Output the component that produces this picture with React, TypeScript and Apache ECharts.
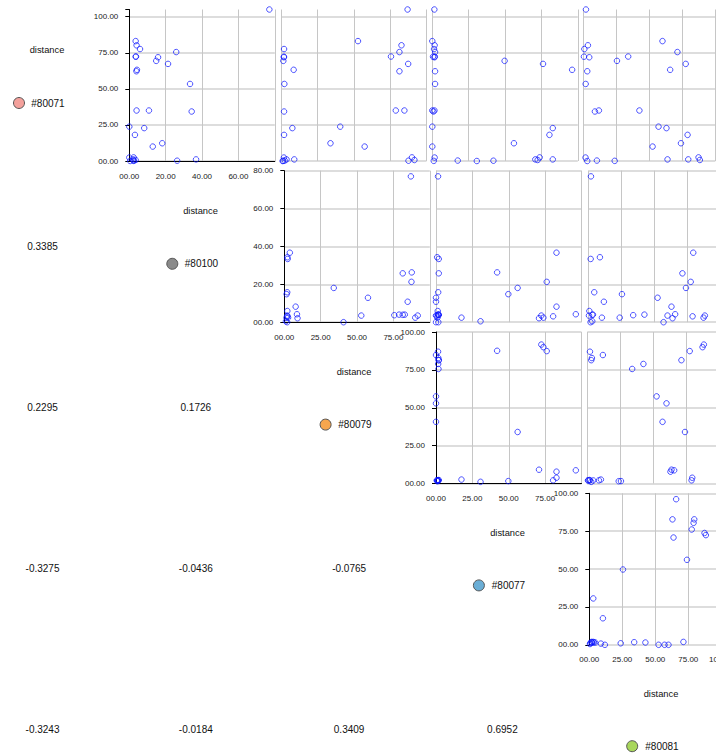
import React, { useEffect, useRef } from "react";
import * as echarts from "echarts";

// ---- data ----
const variableNames = ["#80071", "#80100", "#80079", "#80077", "#80081"];
const variableColors = ["#f4a19c", "#8a8a8a", "#f7a64d", "#6aaed6", "#a8d65c"];
const diagonalLabel = "distance";
const axisMax = [105, 80, 100, 100, 100];
const axisInterval = [25, 20, 25, 25, 25];

const v80071 = [105, 83.1, 80.2, 77.6, 75.5, 72.4, 72.3, 71.9, 69.4, 67.3, 63.2, 62.2, 53.4, 35.0, 35.0, 34.3, 23.8, 22.8, 18.1, 12.3, 10.0, 1.1, 1.1, 2.5, 2.4, 0.7, 0.2, 0.3, 0.0, 0.1];
const v80100 = [77, 3.5, 4.0, 5.9, 25.8, 3.7, 3.5, 15.8, 14.8, 21.3, 4.2, 3.9, 33.4, 4.0, 10.8, 34.3, 0, 8.2, 3.1, 18.1, 12.9, 2.1, 36.7, 2.4, 0, 3.5, 26.3, 2.4, 0.5, 2.4];
const v80079 = [87, 52.9, 82.8, 2.1, 81.4, 75.6, 2.0, 2.0, 1.6, 87.4, 8.7, 81.4, 2.3, 78.9, 84.8, 2.1, 40.7, 7.8, 2.1, 34, 57.5, 9.1, 3.8, 90, 2.0, 91.7, 87.6, 2.6, 1.1, 1.5];
const v80077 = [1.4, 0, 1.6, 1.2, 1.9, 1.7, 0.5, 1.5, 49.7, 76.1, 96.1, 1.9, 1.9, 1.5, 0, 0.8, 0, 82.8, 80.5, 56.1, 0, 70.8, 82.8, 73.8, 1.6, 72.4, 42, 17.5, 30.6, 1.0];
const v80081: (number | null)[] = [2.0, 60, 3.5, 0.8, 71.3, 34, 0.5, 4.5, 25.5, 77.6, 65.8, 3, 1.8, 42.5, 11.8, 8.8, 57, 63, 79, 74, 52.5, 63.8, 79.5, 87.3, 1.7, 88.3, null, 10.3, 3, 23.8];

const correlations = [
  [0.3385],
  [0.2295, 0.1726],
  [-0.3275, -0.0436, -0.0765],
  [-0.3243, -0.0184, 0.3409, 0.6952],
];

const columns: (number | null)[][] = [v80071, v80100, v80079, v80077, v80081];

// ---- layout ----
const FONT = '"Liberation Sans", Arial, sans-serif';
const rowTop = [9.5, 170.7, 332, 493.3];
const panelH = 151.5;
const panelLeft = [
  [129.3, 281, 432.3, 583.3],
  [284.3, 436, 588.3],
  [436, 587.3],
  [589.3],
];

const fmt = (v: number) => {
  const s = v.toFixed(2);
  return s.length < 5 ? "0".repeat(5 - s.length) + s : s;
};

function buildOption() {
  const grids: any[] = [];
  const xAxes: any[] = [];
  const yAxes: any[] = [];
  const series: any[] = [];
  let k = 0;
  for (let i = 0; i < 4; i++) {
    for (let j = i + 1; j < 5; j++) {
      const first = j === i + 1;
      grids.push({
        left: panelLeft[i][j - i - 1],
        top: rowTop[i],
        width: j === 4 ? 132 : 145.5,
        height: panelH,
        containLabel: false,
        outerBoundsMode: "none",
      });
      const xi = axisInterval[j];
      const yi = axisInterval[i];
      xAxes.push({
        type: "value",
        gridIndex: k,
        min: 0,
        max: axisMax[j],
        interval: xi,
        position: "bottom",
        offset: 7,
        axisLine: { show: first && i < 3, lineStyle: { color: "#000", width: 1 } },
        axisTick: { show: false },
        axisLabel: {
          show: first,
          fontSize: 8,
          fontFamily: FONT,
          color: "#1a1a1a",
          margin: 4,
          showMaxLabel: i === 3,
          formatter: (v: number) => (Math.abs(v % xi) < 1e-9 ? fmt(v) : ""),
        },
        splitLine: { show: true, lineStyle: { color: "#c6c6c6", width: 1 } },
      });
      yAxes.push({
        type: "value",
        gridIndex: k,
        min: 0,
        max: axisMax[i],
        interval: yi,
        position: "left",
        offset: 6,
        axisLine: { show: first, lineStyle: { color: "#000", width: 1 } },
        axisTick: { show: first, length: 4, lineStyle: { color: "#000" } },
        axisLabel: {
          show: first,
          fontSize: 8,
          fontFamily: FONT,
          color: "#1a1a1a",
          margin: 5,
          showMaxLabel: true,
          formatter: (v: number) => (Math.abs(v % yi) < 1e-9 ? fmt(v) : ""),
        },
        splitLine: {
          show: true,
          showMaxLine: axisMax[i] % yi === 0,
          lineStyle: { color: "#d2d2d2", width: 1.6 },
        },
      });
      const data = columns[j]
        .map((x, n) => [x, columns[i][n]])
        .filter((p) => p[0] != null && p[1] != null);
      series.push({
        type: "scatter",
        xAxisIndex: k,
        yAxisIndex: k,
        data,
        symbol: "circle",
        symbolSize: 5.5,
        clip: false,
        silent: true,
        itemStyle: {
          color: "rgba(255,255,255,0)",
          borderColor: "rgba(10,20,255,0.9)",
          borderWidth: 1,
        },
      });
      k++;
    }
  }

  const graphics: any[] = [];
  for (let i = 0; i < 5; i++) {
    const cx = 47 + i * 153.5;
    graphics.push({
      type: "text",
      x: cx,
      y: 50 + i * 161,
      style: {
        text: diagonalLabel,
        fill: "#111",
        font: `9.3px ${FONT}`,
        textAlign: "center",
        textVerticalAlign: "middle",
        align: "center",
        verticalAlign: "middle",
      },
    });
    const cy = 103 + i * 160.8;
    graphics.push({
      type: "circle",
      shape: { cx: 19 + i * 153.3, cy, r: 5.5 },
      style: { fill: variableColors[i], stroke: "#555", lineWidth: 1 },
    });
    graphics.push({
      type: "text",
      x: cx + 1,
      y: cy,
      style: {
        text: variableNames[i],
        fill: "#111",
        font: `10px ${FONT}`,
        textAlign: "center",
        textVerticalAlign: "middle",
        align: "center",
        verticalAlign: "middle",
      },
    });
  }
  correlations.forEach((row, r) => {
    const i = r + 1;
    row.forEach((val, j) => {
      graphics.push({
        type: "text",
        x: 42.5 + j * 153.3,
        y: 85.5 + i * 161,
        style: {
          text: val.toFixed(4),
          fill: "#111",
          font: `10px ${FONT}`,
          textAlign: "center",
          textVerticalAlign: "middle",
          align: "center",
          verticalAlign: "middle",
        },
      });
    });
  });

  return {
    animation: false,
    backgroundColor: "#ffffff",
    grid: grids,
    xAxis: xAxes,
    yAxis: yAxes,
    series,
    graphic: graphics,
  };
}

export default function App() {
  const ref = useRef<HTMLDivElement>(null);
  useEffect(() => {
    if (!ref.current) return;
    const chart = echarts.init(ref.current, null, { renderer: "svg" });
    chart.setOption(buildOption() as any);
    return () => chart.dispose();
  }, []);
  return (
    <div
      ref={ref}
      style={{ position: "fixed", left: 0, top: 0, width: 716, height: 753 }}
    />
  );
}
